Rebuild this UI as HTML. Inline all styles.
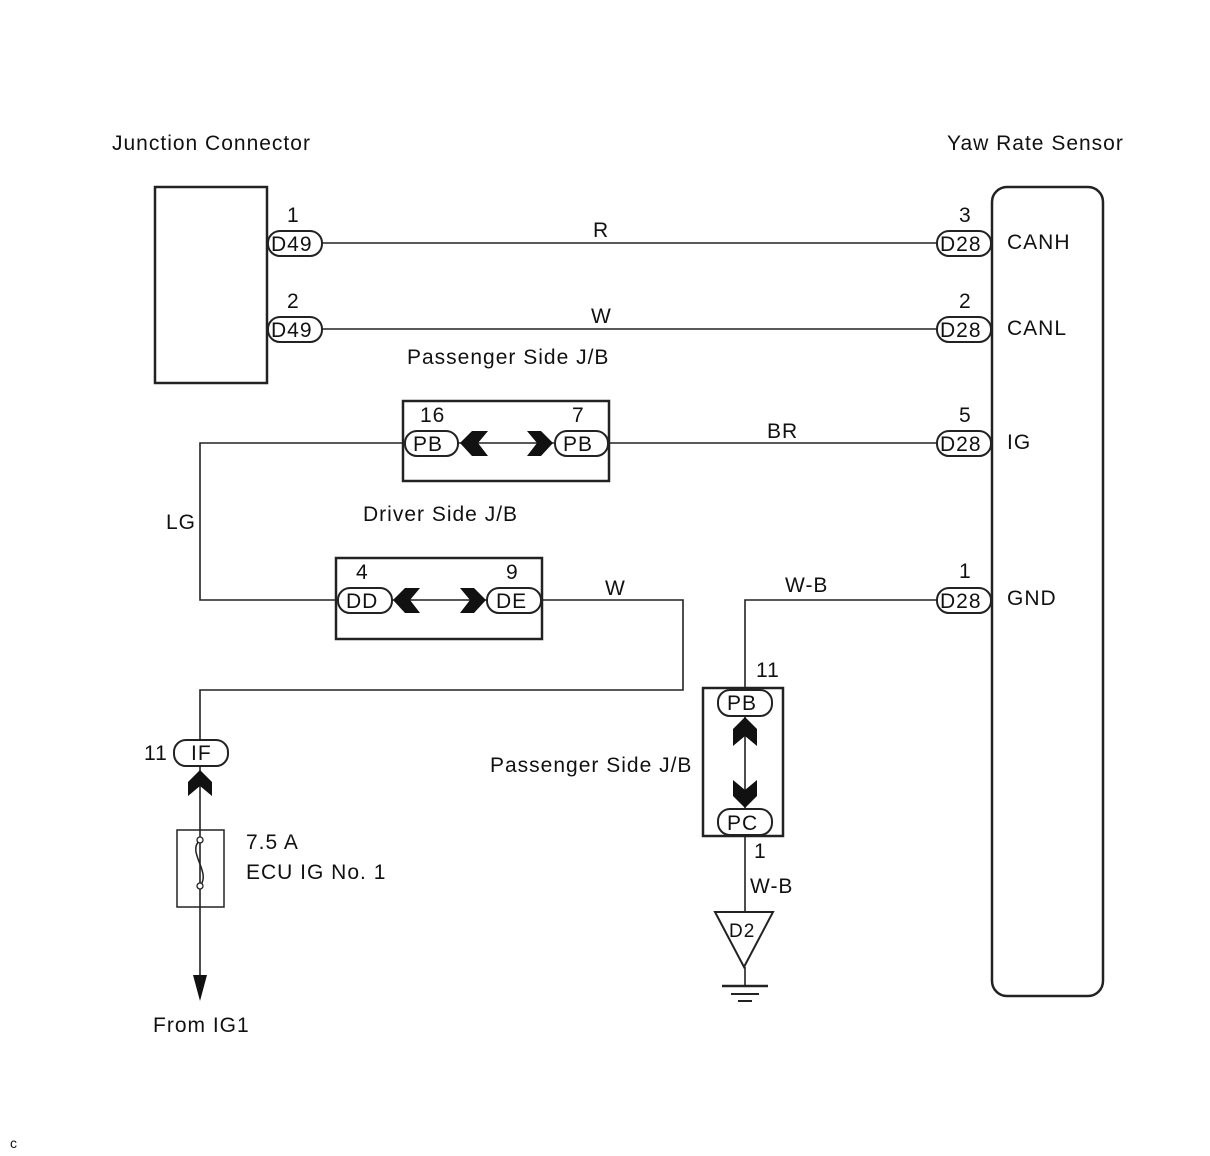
<!DOCTYPE html>
<html><head><meta charset="utf-8"><style>
html,body{margin:0;padding:0;background:#fff}
svg{display:block}
text{font-family:"Liberation Sans",Arial,sans-serif;font-size:21px;letter-spacing:1px;fill:#111}
</style></head><body>
<svg width="1210" height="1156" viewBox="0 0 1210 1156" xmlns="http://www.w3.org/2000/svg">
<g stroke="#222" fill="none">
<rect x="155" y="187" width="112" height="196" stroke-width="2.5"/>
<rect x="992" y="187" width="111" height="809" rx="15" stroke-width="2.5"/>
<rect x="403" y="401" width="206" height="80" stroke-width="2.5"/>
<rect x="336" y="558" width="206" height="81" stroke-width="2.5"/>
<rect x="703" y="688" width="80" height="148" stroke-width="2.5"/>
<rect x="177" y="830" width="47" height="77" stroke-width="1.5"/>
<g stroke-width="1.6">
<line x1="322" y1="243" x2="937" y2="243"/>
<line x1="322" y1="329" x2="937" y2="329"/>
<line x1="608" y1="443" x2="937" y2="443"/>
<polyline points="405,443 200,443 200,600 338,600"/>
<line x1="458" y1="443" x2="554" y2="443"/>
<line x1="392" y1="600" x2="487" y2="600"/>
<polyline points="541,600 683,600 683,690 200,690 200,740"/>
<line x1="200" y1="766" x2="200" y2="978"/>
<polyline points="937,600 745,600 745,690"/>
<line x1="745" y1="716" x2="745" y2="810"/>
<line x1="745" y1="835" x2="745" y2="912"/>
<line x1="745" y1="967" x2="745" y2="985"/>
<line x1="722" y1="986" x2="768" y2="986" stroke-width="2.5"/>
<line x1="731" y1="994" x2="759" y2="994" stroke-width="2"/>
<line x1="738" y1="1001" x2="752" y2="1001" stroke-width="2"/>
<polygon points="715,912 773,912 744,967" stroke-width="2"/>
<path d="M200,840 C186,852 212,872 200,886" stroke-width="1.5"/>
</g>
<g stroke-width="2" fill="#fff">
<rect x="268" y="231" width="54" height="25" rx="12"/>
<rect x="268" y="317" width="54" height="25" rx="12"/>
<rect x="937" y="231" width="54" height="25" rx="12"/>
<rect x="937" y="317" width="54" height="25" rx="12"/>
<rect x="937" y="431" width="54" height="25" rx="12"/>
<rect x="937" y="588" width="54" height="25" rx="12"/>
<rect x="405" y="431" width="53" height="25" rx="12"/>
<rect x="555" y="431" width="53" height="25" rx="12"/>
<rect x="338" y="588" width="54" height="25" rx="12"/>
<rect x="487" y="588" width="54" height="25" rx="12"/>
<rect x="174" y="740" width="54" height="26" rx="12"/>
<rect x="718" y="690" width="54" height="26" rx="12"/>
<rect x="718" y="809" width="54" height="26" rx="12"/>
<circle cx="200" cy="840" r="3" stroke-width="1.3"/>
<circle cx="200" cy="886" r="3" stroke-width="1.3"/>
</g>
</g>
<g fill="#111">
<polygon points="460,443 472,431 488,431 478,443 488,456 472,456"/>
<polygon points="553,443 541,431 527,431 537,443 527,456 541,456"/>
<polygon points="393,600 405,588 420,588 410,600 420,613 405,613"/>
<polygon points="486,600 474,588 460,588 470,600 460,613 474,613"/>
<polygon points="200,770 188,782 188,796 200,786 212,796 212,782"/>
<polygon points="745,717 733,729 733,746 745,736 757,746 757,729"/>
<polygon points="745,808 733,796 733,780 745,790 757,780 757,796"/>
<polygon points="200,1001 193,975 207,975"/>
</g>
<text x="112" y="150">Junction Connector</text>
<text x="947" y="150">Yaw Rate Sensor</text>
<text x="287" y="222">1</text><text x="271" y="251">D49</text>
<text x="287" y="308">2</text><text x="271" y="337">D49</text>
<text x="959" y="222">3</text><text x="940" y="251">D28</text><text x="1007" y="249">CANH</text>
<text x="959" y="308">2</text><text x="940" y="337">D28</text><text x="1007" y="335">CANL</text>
<text x="959" y="422">5</text><text x="940" y="451">D28</text><text x="1007" y="449">IG</text>
<text x="959" y="578">1</text><text x="940" y="608">D28</text><text x="1007" y="605">GND</text>
<text x="593" y="237">R</text>
<text x="591" y="323">W</text>
<text x="407" y="364">Passenger Side J/B</text>
<text x="420" y="422">16</text><text x="572" y="422">7</text>
<text x="413" y="451">PB</text><text x="563" y="451">PB</text>
<text x="767" y="438">BR</text>
<text x="166" y="529">LG</text>
<text x="363" y="521">Driver Side J/B</text>
<text x="356" y="579">4</text><text x="506" y="579">9</text>
<text x="346" y="608">DD</text><text x="496" y="608">DE</text>
<text x="605" y="595">W</text>
<text x="785" y="592">W-B</text>
<text x="756" y="677">11</text>
<text x="727" y="710">PB</text>
<text x="727" y="830">PC</text>
<text x="490" y="772">Passenger Side J/B</text>
<text x="754" y="858">1</text>
<text x="750" y="893">W-B</text>
<text x="729" y="937" style="font-size:19px">D2</text>
<text x="144" y="760">11</text>
<text x="191" y="760">IF</text>
<text x="246" y="849">7.5 A</text>
<text x="246" y="879">ECU IG No. 1</text>
<text x="153" y="1032">From IG1</text>
<text x="10" y="1148" style="font-size:14px">c</text>
</svg>
</body></html>
